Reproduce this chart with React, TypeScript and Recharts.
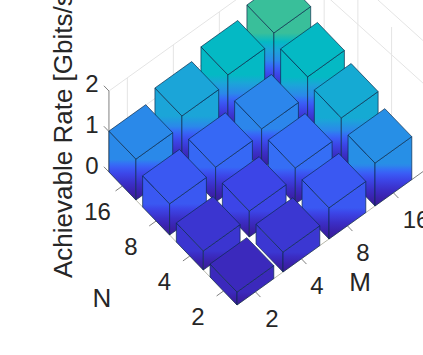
import { ScatterChart, Scatter, XAxis, YAxis, ReferenceLine } from "recharts";

const mValues = [2, 4, 8, 16];
const nValues = [2, 4, 8, 16];
const zTicks = [0, 1, 2];

// rates[n index][m index], Gbits/s
const ratesN2 = [0.32, 0.49, 0.77, 1.06];
const ratesN4 = [0.47, 0.64, 0.89, 1.31];
const ratesN8 = [0.77, 0.86, 0.99, 1.46];
const ratesN16 = [1.01, 1.26, 1.46, 1.68];
const rates = [ratesN2, ratesN4, ratesN8, ratesN16];

const WIDTH = 423;
const HEIGHT = 355;

// hand fitted view: m, n in grid steps, z in Gbits/s
const ORIGIN = [237, 305];
const M_STEP = [46, -33];
const N_STEP = [-33.7, -35];
const Z_SCALE = 40.5;
const BAR = 0.8;
const EXTENT = 3.8;

const project = (m: number, n: number, z: number) => ({
  x: ORIGIN[0] + m * M_STEP[0] + n * N_STEP[0],
  y: ORIGIN[1] + m * M_STEP[1] + n * N_STEP[1] - z * Z_SCALE,
});

const colormap: [number, string][] = [
  [0, "#3a1c94"],
  [0.2, "#3a22ac"],
  [0.4, "#3b2ec6"],
  [0.65, "#3c46e8"],
  [0.8, "#3a5cf5"],
  [0.9, "#3470f5"],
  [1.0, "#2b88ea"],
  [1.26, "#1ba5d8"],
  [1.46, "#04b9c4"],
  [1.7, "#3ec096"],
];

const hex = (c: string) => [1, 3, 5].map((i) => parseInt(c.slice(i, i + 2), 16));

const colorAt = (z: number) => {
  for (let i = 1; i < colormap.length; i++) {
    if (z <= colormap[i][0]) {
      const [z0, c0] = colormap[i - 1];
      const [z1, c1] = colormap[i];
      const t = (z - z0) / (z1 - z0);
      const a = hex(c0);
      const b = hex(c1);
      return `rgb(${a.map((v, k) => Math.round(v + (b[k] - v) * t)).join(",")})`;
    }
  }
  return colormap[colormap.length - 1][1];
};

// back to front so nearer bars paint over the farther ones
const bars = nValues
  .flatMap((_, j) => mValues.map((_, i) => ({ i, j, value: rates[j][i], ...project(i, j, 0) })))
  .sort((a, b) => b.i + b.j - (a.i + a.j));

const Bar3D = (props: any) => {
  const { cx, cy, payload } = props;
  const h = payload.value * Z_SCALE;
  const mx = M_STEP[0] * BAR;
  const my = M_STEP[1] * BAR;
  const nx = N_STEP[0] * BAR;
  const ny = N_STEP[1] * BAR;
  const id = `bar-${payload.i}-${payload.j}`;
  const stops = colormap.filter(([z]) => z < payload.value);
  const edge = { stroke: "#0a2a4a", strokeOpacity: 0.75, strokeWidth: 0.9, strokeLinejoin: "round" as const };
  return (
    <g>
      <defs>
        <linearGradient id={id} gradientUnits="userSpaceOnUse" x1={0} x2={0} y1={cy} y2={cy - h}>
          {stops.map(([z, c]) => (
            <stop key={z} offset={z / payload.value} stopColor={c} />
          ))}
          <stop offset={1} stopColor={colorAt(payload.value)} />
        </linearGradient>
      </defs>
      <polygon
        points={`${cx},${cy} ${cx + nx},${cy + ny} ${cx + nx},${cy + ny - h} ${cx},${cy - h}`}
        fill={`url(#${id})`}
        {...edge}
      />
      <polygon
        points={`${cx},${cy} ${cx + mx},${cy + my} ${cx + mx},${cy + my - h} ${cx},${cy - h}`}
        fill={`url(#${id})`}
        {...edge}
      />
      <polygon
        points={`${cx},${cy - h} ${cx + mx},${cy + my - h} ${cx + mx + nx},${cy + my + ny - h} ${cx + nx},${cy + ny - h}`}
        fill={colorAt(payload.value)}
        {...edge}
      />
    </g>
  );
};

const labelItems = [
  ...zTicks.map((z, k) => ({ text: String(z), x: 92, y: 165 - k * 41, size: 24 })),
  ...nValues.map((n, k) => ({ text: String(n), x: 198 - k * 33.5, y: 316 - k * 35, size: 24 })),
  ...mValues.map((m, k) => ({ text: String(m), x: [272, 317, 363, 416][k], y: 318 - k * 33, size: 24 })),
  { text: "N", x: 102, y: 298, size: 26 },
  { text: "M", x: 360, y: 282, size: 26 },
];

const TextLabel = (props: any) => {
  const { cx, cy, payload } = props;
  return (
    <text
      x={cx}
      y={cy}
      textAnchor="middle"
      dominantBaseline="central"
      fontFamily="Liberation Sans"
      fontSize={payload.size}
      fill="#262626"
    >
      {payload.text}
    </text>
  );
};

const AxisTitle = (props: any) => {
  const { cx, cy } = props;
  return (
    <text
      x={cx}
      y={cy}
      transform={`rotate(-90 ${cx} ${cy})`}
      fontFamily="Liberation Sans"
      fontSize={26}
      fill="#262626"
    >
      Achievable Rate [Gbits/s]
    </text>
  );
};

const seg = (a: { x: number; y: number }, b: { x: number; y: number }) => [a, b] as [any, any];

// walls of the box: the right one is drawn taller in the source picture
const LEFT_WALL_TOP = 2;
const RIGHT_WALL_LINES = [2.2, 3.25];

const wallSegments = [
  seg(project(0, EXTENT, LEFT_WALL_TOP), project(EXTENT, EXTENT, LEFT_WALL_TOP)),
  seg(project(0, EXTENT, 1), project(EXTENT, EXTENT, 1)),
  ...mValues.map((_, i) => seg(project(i + 0.4, EXTENT, 0), project(i + 0.4, EXTENT, LEFT_WALL_TOP))),
  ...RIGHT_WALL_LINES.map((z) => seg(project(EXTENT + 0.25, -0.25, z), project(EXTENT, EXTENT, z))),
  ...nValues.map((_, j) => seg(project(EXTENT, j + 0.6, 0), project(EXTENT, j + 0.6, RIGHT_WALL_LINES[1]))),
];

const floorEdges = [
  seg(project(0, 0, 0), project(EXTENT, 0, 0)),
  seg(project(0, 0, 0), project(0, EXTENT, 0)),
];

const TICK = 0.15;
const tickSegments = [
  ...mValues.map((_, i) => seg(project(i + 0.4, 0, 0), project(i + 0.4, -TICK, 0))),
  ...nValues.map((_, j) => seg(project(0, j + 0.4, 0), project(-TICK, j + 0.4, 0))),
  ...zTicks.map((z) => seg(project(0, EXTENT, z), project(0, EXTENT + TICK, z))),
  seg(project(0, EXTENT, 0), project(0, EXTENT, 2)),
  seg(project(EXTENT, 0, 0), project(EXTENT + 0.26, 0, 0)),
];

function App() {
  return (
    <div style={{ position: "absolute", left: 0, top: 0 }}>
      <ScatterChart width={WIDTH} height={HEIGHT} margin={{ top: 0, right: 0, bottom: 0, left: 0 }}>
        <XAxis type="number" dataKey="x" domain={[0, WIDTH]} hide />
        <YAxis type="number" dataKey="y" domain={[0, HEIGHT]} reversed hide />
        {wallSegments.map((s, k) => (
          <ReferenceLine key={`w${k}`} segment={s} ifOverflow="visible" stroke="#e4e4e4" strokeWidth={1} />
        ))}
        {floorEdges.map((s, k) => (
          <ReferenceLine key={`f${k}`} segment={s} ifOverflow="visible" stroke="#b9b9ac" strokeWidth={1} />
        ))}
        {tickSegments.map((s, k) => (
          <ReferenceLine key={`t${k}`} segment={s} ifOverflow="visible" stroke="#808080" strokeWidth={1} />
        ))}
        <Scatter data={bars} shape={Bar3D} isAnimationActive={false} />
        <Scatter data={labelItems} shape={TextLabel} isAnimationActive={false} />
        <Scatter data={[{ x: 72, y: 278 }]} shape={AxisTitle} isAnimationActive={false} />
      </ScatterChart>
    </div>
  );
}

export default App;
